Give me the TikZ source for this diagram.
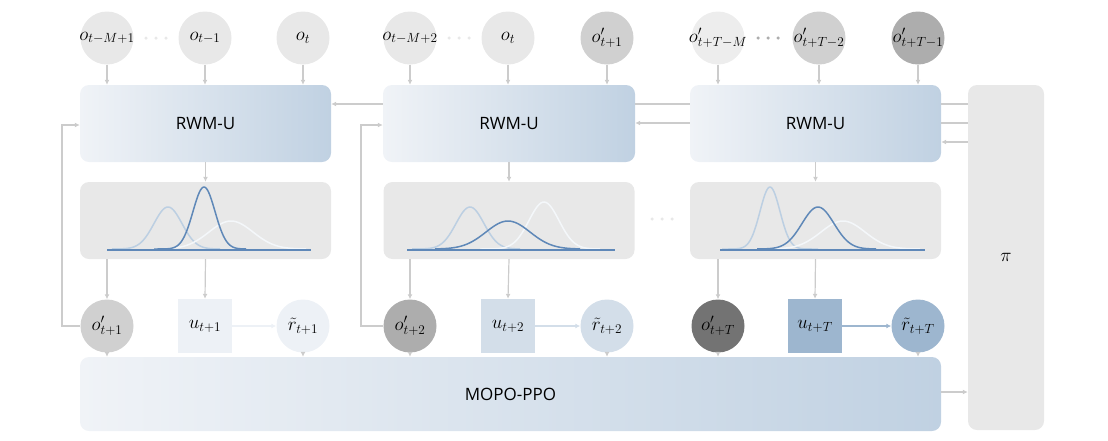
\RequirePackage{fix-cm}
\documentclass[tikz,border=0pt]{standalone}
\usepackage{fontspec}
\newfontfamily\boxfont{Open Sans}
\usetikzlibrary{arrows.meta}
\newcommand{\zb}[1]{\makebox[0pt]{#1}}
\begin{document}
\begin{tikzpicture}[x=1pt,y=-1pt,
  box/.style={rounded corners=9pt,left color=bL,right color=bR,minimum height=77pt,font=\boxfont\fontsize{17}{19}\selectfont,inner sep=0},
  dist/.style={rounded corners=9pt,fill=gbox,minimum width=251pt,minimum height=77pt,inner sep=0},
  ob/.style={circle,minimum size=53pt,inner sep=0,font=\fontsize{19}{21}\selectfont},
  sq/.style={minimum size=54pt,inner sep=0,font=\fontsize{19}{21}\selectfont},
  arr/.style={draw=ac,line width=1.2pt,-{Latex[length=5pt,width=5pt]}},
  ln/.style={draw=ac,line width=1.2pt},
  dotc/.style={fill=ac!80,circle,inner sep=0,minimum size=3.5pt}]
\definecolor{bL}{HTML}{F0F3F7}\definecolor{bR}{HTML}{C0D1E2}
\definecolor{gbox}{HTML}{E8E8E8}\definecolor{ac}{HTML}{CCCCCC}
\definecolor{c1}{HTML}{E8E8E8}\definecolor{c2}{HTML}{D0D0D0}\definecolor{c3}{HTML}{ADADAD}\definecolor{c4}{HTML}{737373}
\definecolor{u1}{HTML}{EDF1F6}\definecolor{u2}{HTML}{D3DEE9}\definecolor{u3}{HTML}{9DB6CF}
\definecolor{gd}{HTML}{5F88B8}\definecolor{gl}{HTML}{BCCFE2}\definecolor{gw}{HTML}{F4F7FA}
\useasboundingbox (0,0) rectangle (1108,440);
% top circles
\node[ob,fill=c1] (a1) at (107,38) {\zb{$o_{t-M+1}$}};
\node[ob,fill=c1] (a2) at (205,38) {\zb{$o_{t-1}$}};
\node[ob,fill=c1] (a3) at (303,38) {\zb{$o_{t}$}};
\node[ob,fill=c1] (b1) at (410,38) {\zb{$o_{t-M+2}$}};
\node[ob,fill=c1] (b2) at (508,38) {\zb{$o_{t}$}};
\node[ob,fill=c2] (b3) at (607,38) {\zb{$o'_{t+1}$}};
\node[ob,fill=c1!80!white] (c1n) at (718,38) {\zb{$o'_{t+T-M}$}};
\node[ob,fill=c2] (c2n) at (819,38) {\zb{$o'_{t+T-2}$}};
\node[ob,fill=c3] (c3n) at (918,38) {\zb{$o'_{t+T-1}$}};
\foreach \x in {146,156,166}{\node[dotc,fill=c1] at (\x,38) {};}
\foreach \x in {449,459,469}{\node[dotc,fill=c1] at (\x,38) {};}
\foreach \x in {758,768,778}{\node[dotc,fill=c3] at (\x,38) {};}
% boxes
\node[box,minimum width=251pt] (R1) at (205.5,123.5) {RWM-U};
\node[box,minimum width=252pt] (R2) at (509,123.5) {RWM-U};
\node[box,minimum width=251pt] (R3) at (815.5,123.5) {RWM-U};
\node[dist] (D1) at (205.5,220.5) {};
\node[dist] (D2) at (509,220.5) {};
\node[dist] (D3) at (815.5,220.5) {};
\foreach \x in {652,662,672}{\node[dotc,fill=c1] at (\x,219) {};}
\node[box,minimum width=861pt,minimum height=74pt] (M) at (510.5,394) {MOPO-PPO};
\node[rounded corners=9pt,fill=gbox,minimum width=76pt,minimum height=345pt,inner sep=0,font=\fontsize{19}{21}\selectfont] (P) at (1006,257.5) {$\pi$};
% gaussians
\newcommand{\gss}[6]{\draw[#4,line width=1.5pt,domain=#5:#6,samples=70] plot (\x,{249-#3*exp(-((\x-#1)/#2)*((\x-#1)/#2)/2)});}
\gss{168}{14}{42}{gl}{112}{220}
\gss{231}{22}{28}{gw}{160}{306}
\gss{204}{11}{62}{gd}{154}{246}
\draw[gd,line width=1.5pt] (107,250) -- (311,250);
\gss{470}{14}{42}{gl}{412}{520}
\gss{544}{15}{47}{gw}{480}{600}
\gss{508}{22}{28}{gd}{435}{580}
\draw[gd,line width=1.5pt] (407,250) -- (615,250);
\gss{770}{10}{62}{gl}{722}{818}
\gss{843}{22}{28}{gw}{770}{920}
\gss{818}{16}{42}{gd}{757}{876}
\draw[gd,line width=1.5pt] (720,250) -- (925,250);
% bottom row
\node[ob,fill=c2] (o1) at (107,326) {\zb{$o'_{t+1}$}};
\node[sq,fill=u1] (u1n) at (205,326) {\zb{$u_{t+1}$}};
\node[ob,fill=u1] (r1) at (303,326) {\zb{$\tilde r_{t+1}$}};
\node[ob,fill=c3] (o2) at (410,326) {\zb{$o'_{t+2}$}};
\node[sq,fill=u2] (u2n) at (508,326) {\zb{$u_{t+2}$}};
\node[ob,fill=u2] (r2) at (607,326) {\zb{$\tilde r_{t+2}$}};
\node[ob,fill=c4] (o3) at (718,326) {\zb{$o'_{t+T}$}};
\node[sq,fill=u3] (u3n) at (815,326) {\zb{$u_{t+T}$}};
\node[ob,fill=u3] (r3) at (918,326) {\zb{$\tilde r_{t+T}$}};
% arrows top
\foreach \n in {a1,a2,a3}{\draw[arr] (\n.south) -- (\n.south |- R1.north);}
\foreach \n in {b1,b2,b3}{\draw[arr] (\n.south) -- (\n.south |- R2.north);}
\foreach \n in {c1n,c2n,c3n}{\draw[arr] (\n.south) -- (\n.south |- R3.north);}
\foreach \R/\D in {R1/D1,R2/D2,R3/D3}{\draw[arr] (\R.south) -- (\D.north);}
\foreach \D/\o/\u in {D1/o1/u1n,D2/o2/u2n,D3/o3/u3n}{\draw[arr] (\o.north |- \D.south) -- (\o.north); \draw[arr] (\D.south) -- (\u.north);}
\draw[arr,draw=u1] (u1n) -- (r1);
\draw[arr,draw=u2] (u2n) -- (r2);
\draw[arr,draw=u3] (u3n) -- (r3);
\foreach \n in {o1,r1,o2,r2,o3,r3}{\draw[arr] (\n.south) -- (\n.south |- M.north);}
% feedback
\coordinate (f1) at (62,125); \coordinate (f2) at (361,125);
\draw[arr] (o1.west) -| (f1) -- (f1 -| R1.west);
\draw[arr] (o2.west) -| (f2) -- (f2 -| R2.west);
\draw[arr] (R2.west |- 0,104) -- (R1.east |- 0,104);
\draw[ln] (R3.west |- 0,104) -- (R2.east |- 0,104);
\draw[arr] (R3.west |- 0,123) -- (R2.east |- 0,123);
\draw[ln] (P.west |- 0,104) -- (R3.east |- 0,104);
\draw[ln] (P.west |- 0,123) -- (R3.east |- 0,123);
\draw[arr] (P.west |- 0,142) -- (R3.east |- 0,142);
\draw[arr] (M.east |- 0,392) -- (P.west |- 0,392);
\end{tikzpicture}
\end{document}
